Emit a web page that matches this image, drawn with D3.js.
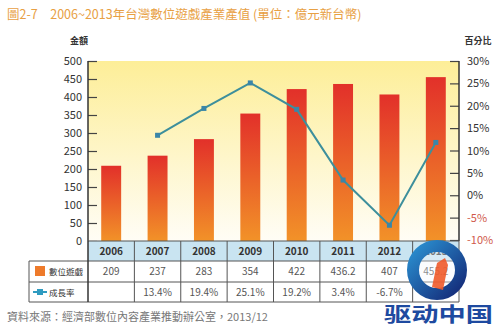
<!DOCTYPE html>
<html><head><meta charset="utf-8">
<script src="https://cdn.jsdelivr.net/npm/d3@7"></script>
<style>body{margin:0;background:#fff}svg{display:block}text{font-family:"Noto Sans CJK TC","Noto Sans",sans-serif}</style>
</head><body>
<svg id="c" width="500" height="329"></svg>
<script>
const years = ["2006","2007","2008","2009","2010","2011","2012","2013"];
const revenue = [209,237,283,354,422,436.2,407,455.2];
const growth = [null,13.4,19.4,25.1,19.2,3.4,-6.7,11.8];
const revenueLabels = ["209","237","283","354","422","436.2","407","455.2"];
const growthLabels = ["","13.4%","19.4%","25.1%","19.2%","3.4%","-6.7%","11.8%"];
const leftTicks = [0,50,100,150,200,250,300,350,400,450,500];
const rightTicks = [-10,-5,0,5,10,15,20,25,30];

const svg = d3.select("#c");
const L = 88, R = 459, T = 61, B = 241;
const x = d3.scaleBand().domain(years).range([L, R]).paddingInner(0.57).paddingOuter(0.285);
const xc = d3.scaleBand().domain(years).range([L, R]);
const y = d3.scaleLinear().domain([0,500]).range([B, T]);
const y2 = d3.scaleLinear().domain([-10,30]).range([B-1, T]);

const defs = svg.append("defs");
const bg = defs.append("linearGradient").attr("id","bg").attr("x1",0).attr("y1",0).attr("x2",0).attr("y2",1);
bg.append("stop").attr("offset","0%").attr("stop-color","#fdee98");
bg.append("stop").attr("offset","100%").attr("stop-color","#fffdf6");
const bar = defs.append("linearGradient").attr("id","bar").attr("x1",0).attr("y1",0).attr("x2",0).attr("y2",1);
bar.append("stop").attr("offset","0%").attr("stop-color","#e2302a");
bar.append("stop").attr("offset","100%").attr("stop-color","#f29228");
const ring = defs.append("linearGradient").attr("id","ring").attr("x1",0).attr("y1",0).attr("x2",1).attr("y2",1);
ring.append("stop").attr("offset","0%").attr("stop-color","#2a8fd0");
ring.append("stop").attr("offset","100%").attr("stop-color","#142a78");

// title
svg.append("text").attr("x",7).attr("y",19).attr("font-size",12.5).attr("fill","#e8a043")
  .text("圖2-7　2006~2013年台灣數位遊戲產業產值 (單位：億元新台幣)");
svg.append("text").attr("x",79).attr("y",44).attr("font-size",9).attr("fill","#333").attr("text-anchor","middle").attr("font-weight","bold").text("金額");
svg.append("text").attr("x",478).attr("y",44).attr("font-size",9).attr("fill","#333").attr("text-anchor","middle").attr("font-weight","bold").text("百分比");

// plot background
svg.append("rect").attr("x",L).attr("y",T).attr("width",R-L).attr("height",B-T).attr("fill","url(#bg)");

// bars
svg.selectAll(".bar").data(years).enter().append("rect")
  .attr("x",d=>x(d)).attr("width",x.bandwidth())
  .attr("y",(d,i)=>y(revenue[i])).attr("height",(d,i)=>B-y(revenue[i]))
  .attr("fill","url(#bar)");

// axes
const gl = svg.append("g").attr("transform",`translate(${L},0)`)
  .call(d3.axisRight(y).tickValues(leftTicks).tickSize(9).tickFormat(""));
gl.select(".domain").remove();
gl.selectAll("line").attr("stroke","#444").attr("stroke-width",1.2);
svg.append("line").attr("x1",L).attr("x2",L).attr("y1",T).attr("y2",B).attr("stroke","#333").attr("stroke-width",1.5);
svg.selectAll(".lt").data(leftTicks).enter().append("text")
  .attr("x",L-6).attr("y",d=>y(d)+4).attr("text-anchor","end").attr("font-size",11).attr("fill","#333")
  .attr("font-family","'Open Sans',sans-serif").text(d=>d);

const gr = svg.append("g").attr("transform",`translate(${R},0)`)
  .call(d3.axisLeft(y2).tickValues(rightTicks).tickSize(9).tickFormat(""));
gr.select(".domain").remove();
gr.selectAll("line").attr("stroke","#444").attr("stroke-width",1.2);
svg.append("line").attr("x1",R).attr("x2",R).attr("y1",T).attr("y2",B).attr("stroke","#333").attr("stroke-width",1.5);
svg.selectAll(".rt").data(rightTicks).enter().append("text")
  .attr("x",R+8).attr("y",d=>y2(d)+4).attr("font-size",11).attr("fill",d=>d<0?"#d0584a":"#333")
  .attr("font-family","'Open Sans',sans-serif").text(d=>d+"%");

// line
const pts = years.map((d,i)=>({d,v:growth[i]})).filter(p=>p.v!==null);
const line = d3.line().x(p=>x(p.d)+x.bandwidth()/2).y(p=>y2(p.v));
svg.append("path").datum(pts).attr("d",line).attr("fill","none").attr("stroke","#3d8f9c").attr("stroke-width",2);
svg.selectAll(".pt").data(pts).enter().append("rect")
  .attr("x",p=>x(p.d)+x.bandwidth()/2-2.5).attr("y",p=>y2(p.v)-2.5).attr("width",5).attr("height",5)
  .attr("fill","#3a86a8");

// table
const r0 = B, r1 = 261, r2 = 282, r3 = 302, TL = 29;
svg.append("rect").attr("x",L).attr("y",r0).attr("width",R-L).attr("height",r1-r0).attr("fill","#c9e4f1");
svg.append("rect").attr("x",TL).attr("y",r1).attr("width",R-TL).attr("height",r3-r1).attr("fill","#fff");
const lineC = "#555";
[[L,r0,R,r0],[L,r1-0,R,r1],[TL,r1,L,r1],[TL,r2,R,r2],[TL,r3,R,r3],[TL,r1,TL,r3],[R,r0,R,r3]].forEach(a=>{
  svg.append("line").attr("x1",a[0]).attr("y1",a[1]).attr("x2",a[2]).attr("y2",a[3]).attr("stroke",lineC).attr("stroke-width",1);
});
svg.append("line").attr("x1",L).attr("x2",L).attr("y1",r0).attr("y2",r3).attr("stroke","#333").attr("stroke-width",1.5);
svg.selectAll(".vl").data(years.slice(1)).enter().append("line")
  .attr("x1",d=>xc(d)).attr("x2",d=>xc(d)).attr("y1",r0).attr("y2",r3).attr("stroke",lineC).attr("stroke-width",1);
svg.selectAll(".yr").data(years).enter().append("text")
  .attr("x",d=>xc(d)+xc.bandwidth()/2).attr("y",r0+14).attr("text-anchor","middle")
  .attr("font-size",10).attr("font-weight","bold").attr("fill","#333").attr("font-family","'Open Sans',sans-serif").text(d=>d);
svg.selectAll(".rv").data(years).enter().append("text")
  .attr("x",d=>xc(d)+xc.bandwidth()/2).attr("y",r1+14).attr("text-anchor","middle")
  .attr("font-size",10).attr("fill","#555").attr("font-family","'Open Sans',sans-serif").text((d,i)=>revenueLabels[i]);
svg.selectAll(".gv").data(years).enter().append("text")
  .attr("x",d=>xc(d)+xc.bandwidth()/2).attr("y",r2+14).attr("text-anchor","middle")
  .attr("font-size",10).attr("fill","#555").attr("font-family","'Open Sans',sans-serif").text((d,i)=>growthLabels[i]);
// legend cells
svg.append("rect").attr("x",35).attr("y",r1+5).attr("width",10).attr("height",10).attr("fill","#ee7a2a");
svg.append("text").attr("x",49).attr("y",r1+14).attr("font-size",8.5).attr("fill","#333").text("數位遊戲");
svg.append("line").attr("x1",33).attr("x2",47).attr("y1",r2+10).attr("y2",r2+10).attr("stroke","#2f9bc0").attr("stroke-width",2);
svg.append("rect").attr("x",37).attr("y",r2+7).attr("width",6).attr("height",6).attr("fill","#2f9bc0");
svg.append("text").attr("x",49).attr("y",r2+14).attr("font-size",8.5).attr("fill","#333").text("成長率");

// source
svg.append("text").attr("x",7).attr("y",321).attr("font-size",11).attr("fill","#777")
  .text("資料來源：經濟部數位內容產業推動辦公室，2013/12");

// watermark
svg.append("circle").attr("cx",437).attr("cy",270).attr("r",24).attr("fill","#f4f6fb").attr("fill-opacity",0.35).attr("stroke","url(#ring)").attr("stroke-width",12);
svg.append("path").attr("d","M432,287 L437,263 L445,258 L448,265 L443,290 Z").attr("fill","#ef5a2a").attr("fill-opacity",0.9);
svg.append("text").attr("x",384).attr("y",322).attr("font-size",20).attr("font-weight","bold").attr("fill","#1e4aa0")
  .attr("textLength",109).attr("lengthAdjust","spacingAndGlyphs").text("驱动中国");
</script>
</body></html>
